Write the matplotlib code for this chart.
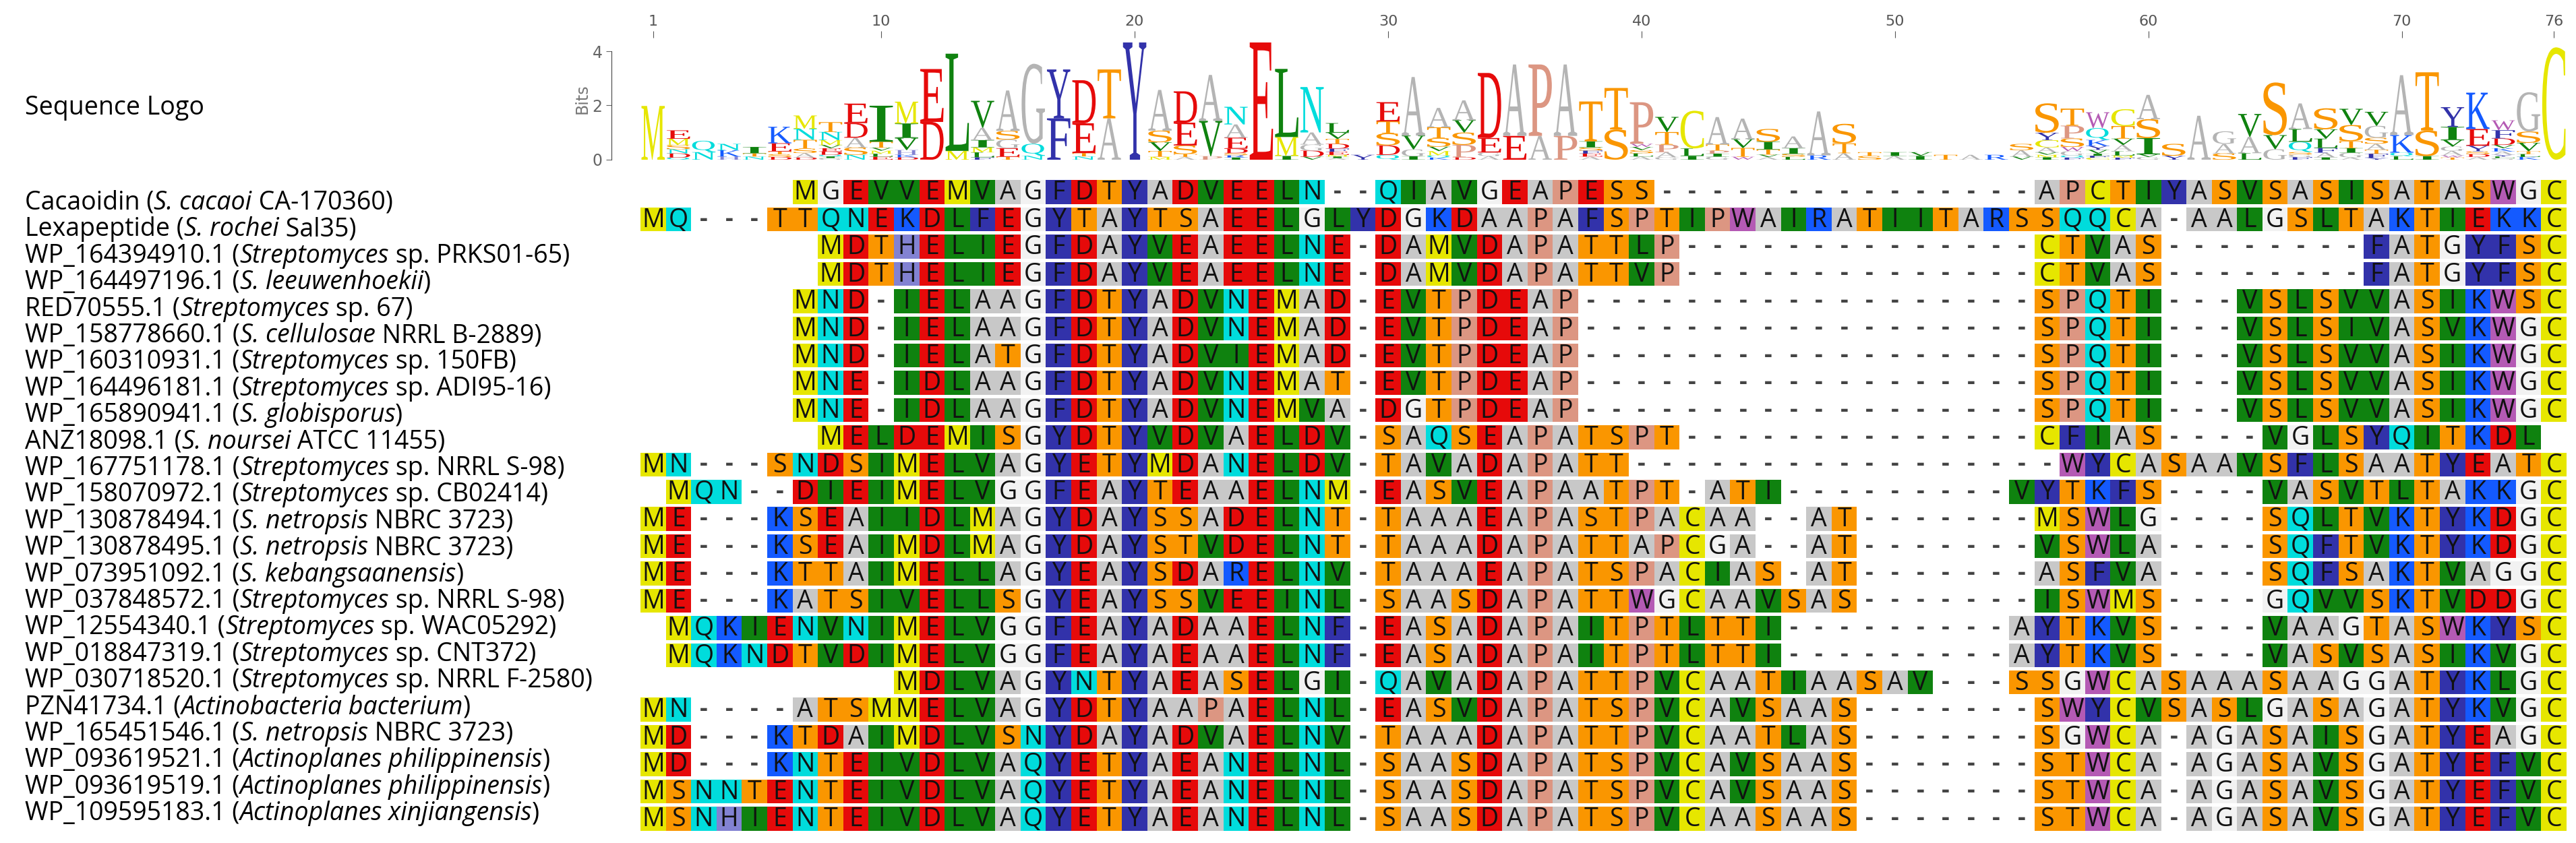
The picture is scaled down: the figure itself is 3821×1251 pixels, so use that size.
import sys
import numpy as np
import matplotlib
matplotlib.use("Agg")
import matplotlib.pyplot as plt
from matplotlib.patches import Rectangle, PathPatch
from matplotlib.textpath import TextPath
from matplotlib.font_manager import FontProperties
from matplotlib.transforms import Affine2D

NCOL = 76
labels = [
    "Cacaoidin (*S. cacaoi* CA-170360)",
    "Lexapeptide (*S. rochei* Sal35)",
    "WP_164394910.1 (*Streptomyces* sp. PRKS01-65)",
    "WP_164497196.1 (*S. leeuwenhoekii*)",
    "RED70555.1 (*Streptomyces* sp. 67)",
    "WP_158778660.1 (*S. cellulosae* NRRL B-2889)",
    "WP_160310931.1 (*Streptomyces* sp. 150FB)",
    "WP_164496181.1 (*Streptomyces* sp. ADI95-16)",
    "WP_165890941.1 (*S. globisporus*)",
    "ANZ18098.1 (*S. noursei* ATCC 11455)",
    "WP_167751178.1 (*Streptomyces* sp. NRRL S-98)",
    "WP_158070972.1 (*Streptomyces* sp. CB02414)",
    "WP_130878494.1 (*S. netropsis* NBRC 3723)",
    "WP_130878495.1 (*S. netropsis* NBRC 3723)",
    "WP_073951092.1 (*S. kebangsaanensis*)",
    "WP_037848572.1 (*Streptomyces* sp. NRRL S-98)",
    "WP_12554340.1 (*Streptomyces* sp. WAC05292)",
    "WP_018847319.1 (*Streptomyces* sp. CNT372)",
    "WP_030718520.1 (*Streptomyces* sp. NRRL F-2580)",
    "PZN41734.1 (*Actinobacteria bacterium*)",
    "WP_165451546.1 (*S. netropsis* NBRC 3723)",
    "WP_093619521.1 (*Actinoplanes philippinensis*)",
    "WP_093619519.1 (*Actinoplanes philippinensis*)",
    "WP_109595183.1 (*Actinoplanes xinjiangensis*)",
]

sequences = [
    " " * 6 + "MGEVVEMVAGFDTYADVEELN--QIAVGEAPESS" + "-" * 15 + "APCTIYASVSASISATASWGC",
    "MQ---TTQNEKDLFEGYTAYTSAEELGLYDGKDAAPAFSPTIPWAIRATIITARSSQQCA-AALGSLTAKTIEKKC",
    " " * 7 + "MDTHELIEGFDAYVEAEELNE-DAMVDAPATTLP" + "-" * 14 + "CTVAS" + "-" * 8 + "FATGYFSC",
    " " * 7 + "MDTHELIEGFDAYVEAEELNE-DAMVDAPATTVP" + "-" * 14 + "CTVAS" + "-" * 8 + "FATGYFSC",
    " " * 6 + "MND-IELAAGFDTYADVNEMAD-EVTPDEAP" + "-" * 18 + "SPQTI---VSLSVVASIKWSC",
    " " * 6 + "MND-IELAAGFDTYADVNEMAD-EVTPDEAP" + "-" * 18 + "SPQTI---VSLSIVASVKWGC",
    " " * 6 + "MND-IELATGFDTYADVIEMAD-EVTPDEAP" + "-" * 18 + "SPQTI---VSLSVVASIKWGC",
    " " * 6 + "MNE-IDLAAGFDTYADVNEMAT-EVTPDEAP" + "-" * 18 + "SPQTI---VSLSVVASIKWGC",
    " " * 6 + "MNE-IDLAAGFDTYADVNEMVA-DGTPDEAP" + "-" * 18 + "SPQTI---VSLSVVASIKWGC",
    " " * 7 + "MELDEMISGYDTYVDVAELDV-SAQSEAPATSPT" + "-" * 14 + "CFIAS----VGLSYQITKDL" + " ",
    "MN---SNDSIMELVAGYETYMDANELDV-TAVADAPATT" + "-" * 17 + "WYCASAAVSFLSAATYEATC",
    " MQN--DIEIMELVGGFEAYTEAAELNM-EASVEAPAATPT-ATI" + "-" * 9 + "VYTKFS----VASVTLTAKKGC",
    "ME---KSEAIIDLMAGYDAYSSADELNT-TAAAEAPASTPACAA--AT" + "-" * 7 + "MSWLG----SQLTVKTYKDGC",
    "ME---KSEAIMDLMAGYDAYSTVDELNT-TAAADAPATTAPCGA--AT" + "-" * 7 + "VSWLA----SQFTVKTYKDGC",
    "ME---KTTAIMELLAGYEAYSDARELNV-TAAAEAPATSPACIAS-AT" + "-" * 7 + "ASFVA----SQFSAKTVAGGC",
    "ME---KATSIVELLSGYEAYSSVEEINL-SAASDAPATTWGCAAVSAS" + "-" * 7 + "ISWMS----GQVVSKTVDDGC",
    " MQKIENVNIMELVGGFEAYADAAELNF-EASADAPAITPTLTTI" + "-" * 9 + "AYTKVS----VAAGTASWKYSC",
    " MQKNDTVDIMELVGGFEAYAEAAELNF-EASADAPAITPTLTTI" + "-" * 9 + "AYTKVS----VASVSASIKVGC",
    " " * 10 + "MDLVAGYNTYAEASELGI-QAVADAPATTPVCAATIAASAV---SSGWCASAAASAAGGATYKLGC",
    "MN----ATSMMELVAGYDTYAAPAELNL-EASVDAPATSPVCAVSAAS" + "-" * 7 + "SWYCVSASLGASAGATYKVGC",
    "MD---KTDAIMDLVSNYDAYADVAELNV-TAAADAPATTPVCAATLAS" + "-" * 7 + "SGWCA-AGASAISGATYEAGC",
    "MD---KNTEIVDLVAQYETYAEANELNL-SAASDAPATSPVCAVSAAS" + "-" * 7 + "STWCA-AGASAVSGATYEFVC",
    "MSNNTENTEIVDLVAQYETYAEANELNL-SAASDAPATSPVCAVSAAS" + "-" * 7 + "STWCA-AGASAVSGATYEFVC",
    "MSNHIENTEIVDLVAQYETYAEANELNL-SAASDAPATSPVCAASAAS" + "-" * 7 + "STWCA-AGASAVSGATYEFVC",
]
for i, s in enumerate(sequences):
    if len(s) != NCOL:
        print("row", i, "len", len(s), file=sys.stderr)
sequences = [(s + " " * NCOL)[:NCOL] for s in sequences]

top_ticks = [1, 10, 20, 30, 40, 50, 60, 70, 76]

colors = {
    'A': '#c8c8c8', 'R': '#145aff', 'N': '#00dcdc', 'D': '#e60a0a', 'C': '#e6e600',
    'Q': '#00dcdc', 'E': '#e60a0a', 'G': '#f2f2f2', 'H': '#8282d2', 'I': '#0f820f',
    'L': '#0f820f', 'K': '#145aff', 'M': '#e6e600', 'F': '#3232aa', 'P': '#dc9682',
    'S': '#fa9600', 'T': '#fa9600', 'W': '#b45ab4', 'Y': '#3232aa', 'V': '#0f820f',
}
logo_colors = dict(colors)
logo_colors['A'] = '#b4b4b4'
logo_colors['G'] = '#b4b4b4'

W, H = 3821, 1251
fig = plt.figure(figsize=(W / 100, H / 100), dpi=100)
fig.patch.set_facecolor('white')

x0, x1 = 950, 3807
a_top, a_bot = 265, 1235
ax = fig.add_axes([x0 / W, 1 - a_bot / H, (x1 - x0) / W, (a_bot - a_top) / H])
ax.set_xlim(0.5, NCOL + 0.5)
nrow = len(sequences)
ax.set_ylim(nrow + 0.5, 0.5)
ax.axis('off')
for r, s in enumerate(sequences, start=1):
    for c, ch in enumerate(s, start=1):
        if ch == ' ':
            continue
        if ch == '-':
            ax.text(c, r, '-', ha='center', va='center', fontsize=26, color='#444444',
                    family=['Open Sans', 'DejaVu Sans'], fontweight='bold')
            continue
        ax.add_patch(Rectangle((c - 0.5, r - 0.44), 1.0, 0.88, facecolor=colors[ch],
                               edgecolor='none'))
        ax.text(c, r + 0.03, ch, ha='center', va='center', fontsize=27, color='#111111',
                family=['Open Sans', 'DejaVu Sans'])

l_bot = 237
ppb = 40.25
l_top = l_bot - 4.5 * ppb
lax = fig.add_axes([x0 / W, 1 - l_bot / H, (x1 - x0) / W, (l_bot - l_top) / H])
lax.set_xlim(0.5, NCOL + 0.5)
lax.set_ylim(0, 4.5)
for sp in ['right', 'bottom', 'top']:
    lax.spines[sp].set_visible(False)
lax.spines['left'].set_position(('outward', 31))
lax.spines['left'].set_bounds(0, 4)
lax.spines['left'].set_color('#444444')
lax.set_yticks([0, 2, 4])
lax.tick_params(axis='y', labelsize=17, colors='#666666', length=6)
lax.set_ylabel('Bits', fontsize=17, color='#777777', labelpad=2)
lax.xaxis.set_ticks_position('top')
lax.set_xticks(top_ticks)
lax.set_xticklabels([str(t) for t in top_ticks])
lax.tick_params(axis='x', labelsize=16, colors='#555555', length=7, pad=3)
lax.patch.set_alpha(0)

fp = FontProperties(family='Liberation Serif')
N = len(sequences)
maxbits = np.log2(20)
for c in range(NCOL):
    col = [s[c] for s in sequences if s[c] not in ' -']
    n = len(col)
    if n == 0:
        continue
    letters, counts = np.unique(col, return_counts=True)
    p = counts / n
    Hs = -(p * np.log2(p)).sum()
    ic = (maxbits - Hs) * n / N
    order = np.argsort(p, kind='stable')
    ybase = 0.0
    for k in order:
        h = p[k] * ic
        if h < 0.01:
            continue
        ch = letters[k]
        tp = TextPath((0, 0), ch, size=1, prop=fp)
        bb = tp.get_extents()
        tr = (Affine2D().translate(-bb.x0, -bb.y0)
              .scale(0.92 / bb.width, h / bb.height)
              .translate(c + 1 - 0.46, ybase)) + lax.transData
        lax.add_patch(PathPatch(tp, transform=tr, facecolor=logo_colors[ch],
                                edgecolor='none'))
        ybase += h

lab_font = ['Open Sans', 'DejaVu Sans']
lab_size = 27
fig.text(37 / W, 1 - 160 / H, 'Sequence Logo', fontsize=lab_size, family=lab_font,
         va='center', ha='left')
for i, lab in enumerate(labels):
    y = 1 - (301 + i * 39.4) / H
    parts = lab.split('*')
    prev = fig.text(37 / W, y, parts[0], fontsize=lab_size, family=lab_font,
                    va='center', ha='left')
    for j, part in enumerate(parts[1:], start=1):
        if part == '':
            continue
        style = 'italic' if j % 2 == 1 else 'normal'
        prev = fig.add_artist(matplotlib.text.Annotation(
            part, xy=(1, 0), xycoords=prev, va='bottom', ha='left',
            fontsize=lab_size, family=lab_font, style=style))

fig.savefig('out.png', dpi=100, facecolor='white')
